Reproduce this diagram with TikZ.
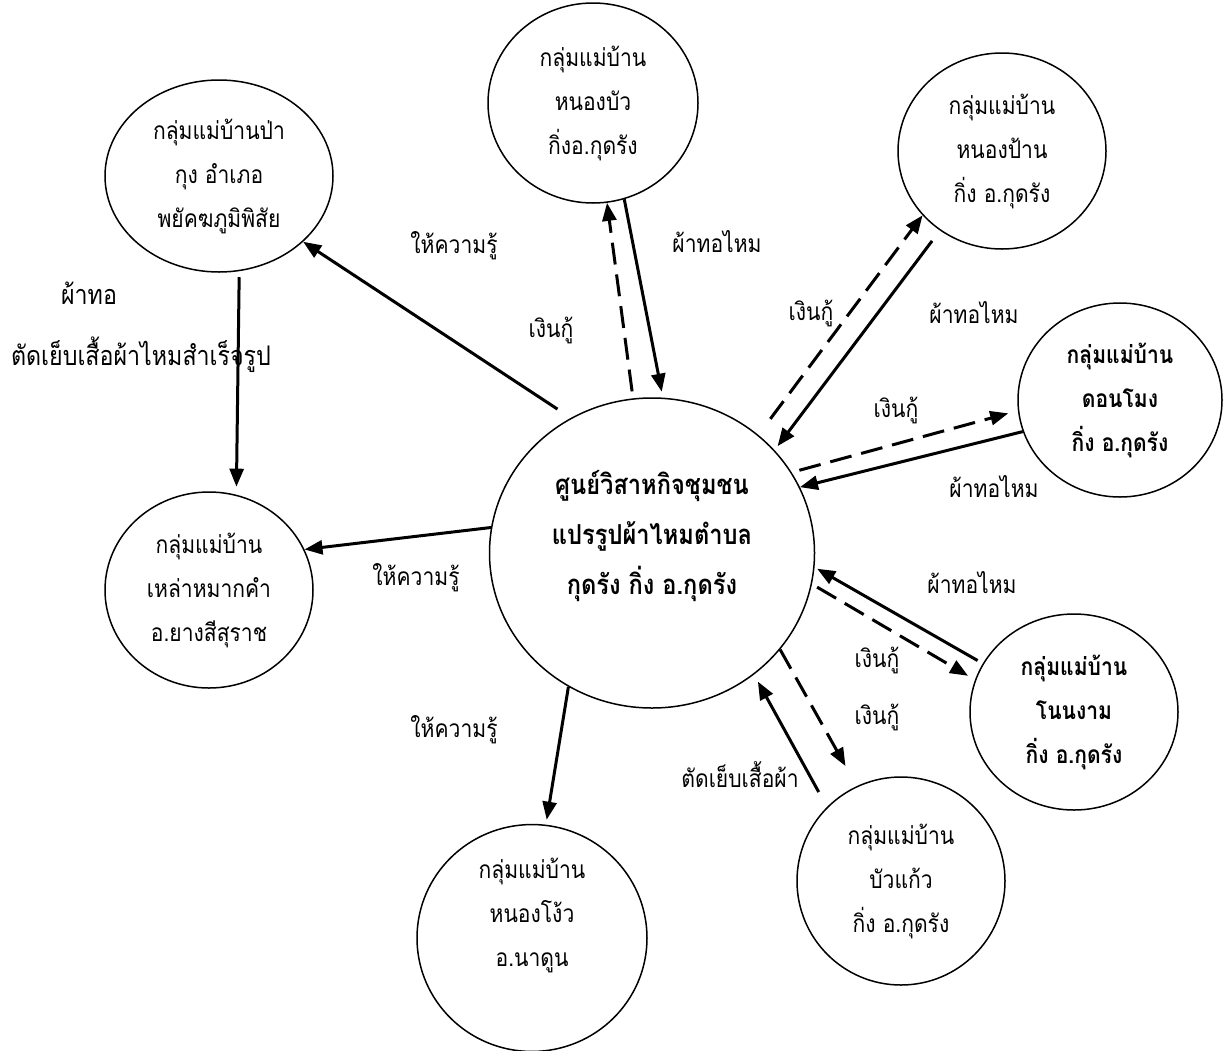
\documentclass[tikz,border=0pt]{standalone}
\usepackage{fontspec}
\setmainfont{Loma}[Script=Thai,FakeStretch=0.86]
\usetikzlibrary{shapes.geometric,arrows.meta}

\tikzset{
  grp/.style={draw,ellipse,line width=1.5pt,inner sep=0pt,align=center,
    font=\fontsize{24.5}{44}\selectfont},
  flow/.style={line width=3pt,-{Triangle[length=18pt,width=14pt]}},
  loan/.style={flow,dash pattern=on 22pt off 10pt},
  lbl/.style={inner sep=0pt,font=\fontsize{24.5}{28}\selectfont},
  biglbl/.style={inner sep=0pt,font=\fontsize{27}{31}\selectfont}
}

\begin{document}
\begin{tikzpicture}[x=1pt,y=-1pt]
\useasboundingbox (0,0) rectangle (1223,1050);

% centre and the groups round it
\node[grp,minimum width=325pt,minimum height=310pt,
  font=\fontsize{27.5}{50}\selectfont\bfseries] (c) at (652,553)
  {ศูนย์วิสาหกิจชุมชน\\แปรรูปผ้าไหมตำบล\\กุดรัง กิ่ง อ.กุดรัง\\[-8pt]\mbox{}};
\node[grp,minimum width=228pt,minimum height=192pt] (pk) at (219,176)
  {กลุ่มแม่บ้านป่า\\กุง อำเภอ\\พยัคฆภูมิพิสัย};
\node[grp,minimum width=210pt,minimum height=200pt] (nb) at (593,103)
  {กลุ่มแม่บ้าน\\หนองบัว\\กิ่งอ.กุดรัง};
\node[grp,minimum width=208pt,minimum height=196pt] (np) at (1002,151)
  {กลุ่มแม่บ้าน\\หนองป้าน\\กิ่ง อ.กุดรัง};
\node[grp,minimum width=204pt,minimum height=194pt,
  font=\fontsize{24.5}{44}\selectfont\bfseries] (dm) at (1120,400)
  {กลุ่มแม่บ้าน\\ดอนโมง\\กิ่ง อ.กุดรัง};
\node[grp,minimum width=208pt,minimum height=196pt,
  font=\fontsize{24.5}{44}\selectfont\bfseries] (nn) at (1074,712)
  {กลุ่มแม่บ้าน\\โนนงาม\\กิ่ง อ.กุดรัง};
\node[grp,minimum width=208pt,minimum height=208pt] (bk) at (901,881)
  {กลุ่มแม่บ้าน\\บัวแก้ว\\กิ่ง อ.กุดรัง};
\node[grp,minimum width=230pt,minimum height=220pt] (ng) at (532,938)
  {กลุ่มแม่บ้าน\\หนองโง้ว\\อ.นาดูน\\[8pt]\mbox{}};
\node[grp,minimum width=208pt,minimum height=196pt] (lk) at (209,590)
  {กลุ่มแม่บ้าน\\เหล่าหมากคำ\\อ.ยางสีสุราช};

% labels
\node[lbl] (k1) at (454,246) {ให้ความรู้};
\node[biglbl] (w1) at (89,293) {ผ้าทอ};
\node[biglbl] (w2) at (141,355) {ตัดเย็บเสื้อผ้าไหมสำเร็จรูป};
\node[lbl] (k2) at (416,578) {ให้ความรู้};
\node[lbl] (k3) at (454,730) {ให้ความรู้};
\node[lbl] (m1) at (551,330) {เงินกู้};
\node[lbl] (s1) at (717,242) {ผ้าทอไหม};
\node[lbl] (m2) at (811,313) {เงินกู้};
\node[lbl] (s2) at (974,313) {ผ้าทอไหม};
\node[lbl] (m3) at (896,410) {เงินกู้};
\node[lbl] (s3) at (994,487) {ผ้าทอไหม};
\node[lbl] (s4) at (972,583) {ผ้าทอไหม};
\node[lbl] (m4) at (877,660) {เงินกู้};
\node[lbl] (m5) at (877,717) {เงินกู้};
\node[lbl] (t1) at (740,775) {ตัดเย็บเสื้อผ้า};

% connectors
\draw[flow,shorten <=16pt] (c.121) -- (pk.-38);
\draw[flow,shorten <=6pt,shorten >=8pt] (pk.-78) -- (lk.74);
\draw[flow] (c.171) -- (lk.23);
\draw[flow,shorten >=5pt] (c.-122) -- (ng.83);
\draw[loan,shorten <=7pt] (c.97) -- (nb.-82);
\draw[flow,shorten >=6pt] (nb.-72) -- (c.86);
\draw[loan,shorten <=20pt] (c.48) -- (np.-141);
\draw[flow,shorten <=13pt,shorten >=5pt] (np.-128) -- (c.40);
\draw[loan,shorten <=8pt,shorten >=10pt] (c.30) -- (dm.-174);
\draw[flow] (dm.-162) -- (c.24);
\draw[flow,shorten <=6pt,shorten >=3pt] (nn.152) -- (c.-5);
\draw[loan,shorten <=6pt,shorten >=8pt] (c.-11) -- (nn.162);
\draw[loan,shorten >=23pt] (c.-37) -- (bk.115);
\draw[flow,shorten <=17pt,shorten >=8pt] (bk.135) -- (c.-50);
\end{tikzpicture}
\end{document}
